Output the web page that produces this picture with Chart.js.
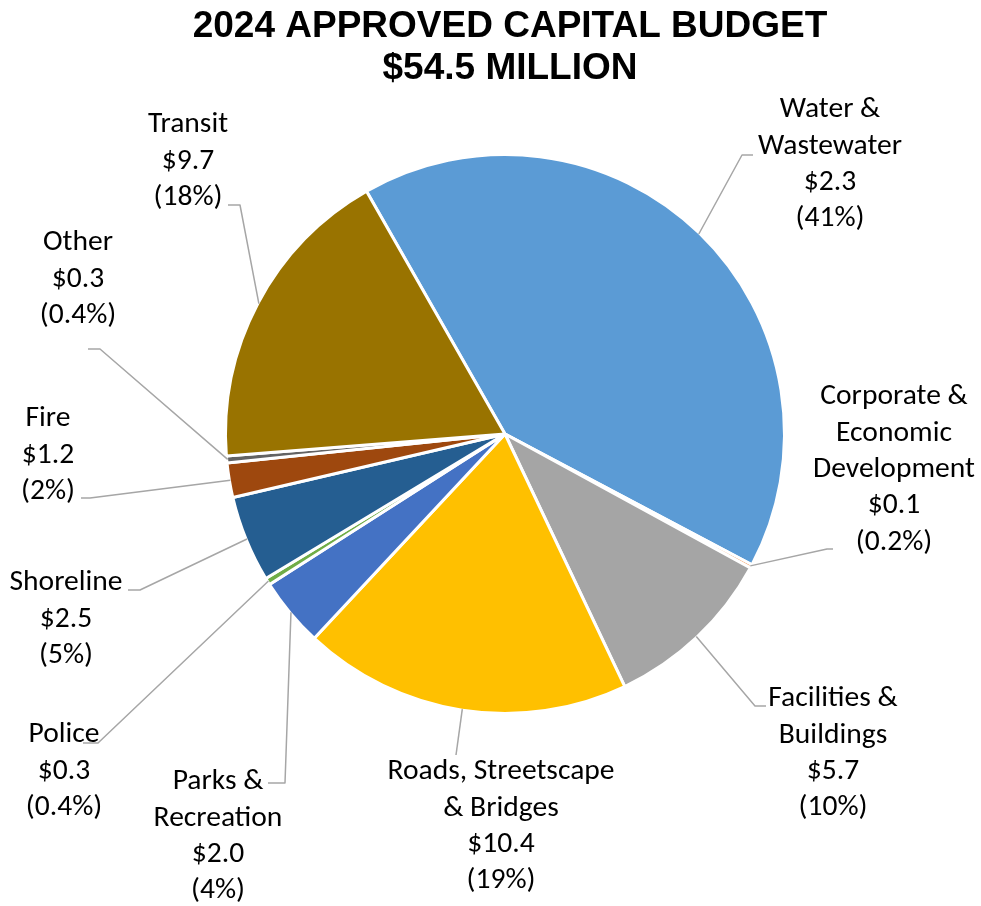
<!DOCTYPE html>
<html>
<head>
<meta charset="utf-8">
<title>2024 Approved Capital Budget</title>
<script src="https://cdn.jsdelivr.net/npm/chart.js@4/dist/chart.umd.min.js"></script>
<style>
  html, body { margin: 0; padding: 0; background: #ffffff; }
  #wrap { width: 981px; height: 906px; }
</style>
</head>
<body>
<div id="wrap"><canvas id="budget" width="981" height="906"></canvas></div>
<script>
// Program areas, clockwise from the top
const categories = [
  'Water & Wastewater',
  'Corporate & Economic Development',
  'Facilities & Buildings',
  'Roads, Streetscape & Bridges',
  'Parks & Recreation',
  'Police',
  'Shoreline',
  'Fire',
  'Other',
  'Transit'
];

// Share of the budget (percent) - sizes the slices
const shares = [41, 0.2, 10, 19, 4, 0.4, 5, 2, 0.4, 18];

// Dollar amounts ($ millions) as printed on the labels
const amounts = [2.3, 0.1, 5.7, 10.4, 2.0, 0.3, 2.5, 1.2, 0.3, 9.7];

// Category names as broken over lines on the labels
const nameLines = [
  ['Water &', 'Wastewater'],
  ['Corporate &', 'Economic', 'Development'],
  ['Facilities &', 'Buildings'],
  ['Roads, Streetscape', '& Bridges'],
  ['Parks &', 'Recreation'],
  ['Police'],
  ['Shoreline'],
  ['Fire'],
  ['Other'],
  ['Transit']
];

const titleLines = ['2024 APPROVED CAPITAL BUDGET', '$54.5 MILLION'];

const sliceColors = ['#5B9BD5', '#ED7D31', '#A5A5A5', '#FFC000', '#4472C4',
                     '#70AD47', '#255E91', '#9E480E', '#636363', '#997300'];

// Label layout: centre x, centre y of first line
const labelAnchors = [
  [830, 110], [894, 397], [833, 699], [501, 772], [218, 782],
  [64, 735], [66, 583], [48, 419], [78, 243], [188, 125]
];
// Leader line bend point and end of the short horizontal stub
const leaderBends = [
  [742, 155, 753], [827, 549, 833], [755, 706, 766], [456, 755, 456], [285, 783, 268],
  [98, 743, 83], [140, 590, 128], [90, 498, 81], [100, 349, 88], [240, 205, 228]
];

const LABEL_FONT_STACK = 'Carlito, Calibri, Lato, "Open Sans", sans-serif';
const LINE_H = 36.3;

function labelFontSize(ctx) {
  // Size the label face so the widest line spans like a 29px Calibri would
  ctx.font = '29px ' + LABEL_FONT_STACK;
  const w = ctx.measureText('Roads, Streetscape').width;
  return 29 * 227 / w;
}

const pieLabels = {
  id: 'pieLabels',
  afterDraw(chart) {
    const ctx = chart.ctx;
    const arcs = chart.getDatasetMeta(0).data;

    // Title
    ctx.save();
    ctx.fillStyle = '#000000';
    ctx.textAlign = 'center';
    ctx.textBaseline = 'alphabetic';
    ctx.font = 'bold 37px "Liberation Sans", Arial, sans-serif';
    ctx.fillText(titleLines[0], 510, 37);
    ctx.fillText(titleLines[1], 510, 79);
    ctx.restore();

    // Leader lines
    ctx.save();
    ctx.strokeStyle = '#A6A6A6';
    ctx.lineWidth = 1.5;
    ctx.lineJoin = 'round';
    arcs.forEach((arc, i) => {
      const p = arc.getProps(['x', 'y', 'startAngle', 'endAngle', 'outerRadius'], true);
      const mid = (p.startAngle + p.endAngle) / 2;
      const r = p.outerRadius - 1;
      const sx = p.x + Math.cos(mid) * r;
      const sy = p.y + Math.sin(mid) * r;
      const [bx, by, ex] = leaderBends[i];
      ctx.beginPath();
      ctx.moveTo(sx, sy);
      ctx.lineTo(bx, by);
      ctx.lineTo(ex, by);
      ctx.stroke();
    });
    ctx.restore();

    // Data labels
    ctx.save();
    const fs = labelFontSize(ctx);
    ctx.font = fs.toFixed(2) + 'px ' + LABEL_FONT_STACK;
    ctx.fillStyle = '#000000';
    ctx.textAlign = 'center';
    ctx.textBaseline = 'middle';
    categories.forEach((c, i) => {
      const lines = nameLines[i].concat(['$' + amounts[i].toFixed(1), '(' + shares[i] + '%)']);
      const [cx, cy] = labelAnchors[i];
      lines.forEach((t, k) => ctx.fillText(t, cx, cy + k * LINE_H));
    });
    ctx.restore();
  }
};

new Chart(document.getElementById('budget'), {
  type: 'pie',
  data: {
    labels: categories,
    datasets: [{
      data: shares,
      backgroundColor: sliceColors,
      borderColor: '#ffffff',
      borderWidth: 3
    }]
  },
  options: {
    responsive: false,
    maintainAspectRatio: false,
    devicePixelRatio: 1,
    animation: false,
    rotation: -29.7,
    layout: { padding: { left: 224, right: 195, top: 153, bottom: 191 } },
    plugins: {
      legend: { display: false },
      tooltip: { enabled: false },
      title: { display: false }
    }
  },
  plugins: [pieLabels]
});
</script>
</body>
</html>
